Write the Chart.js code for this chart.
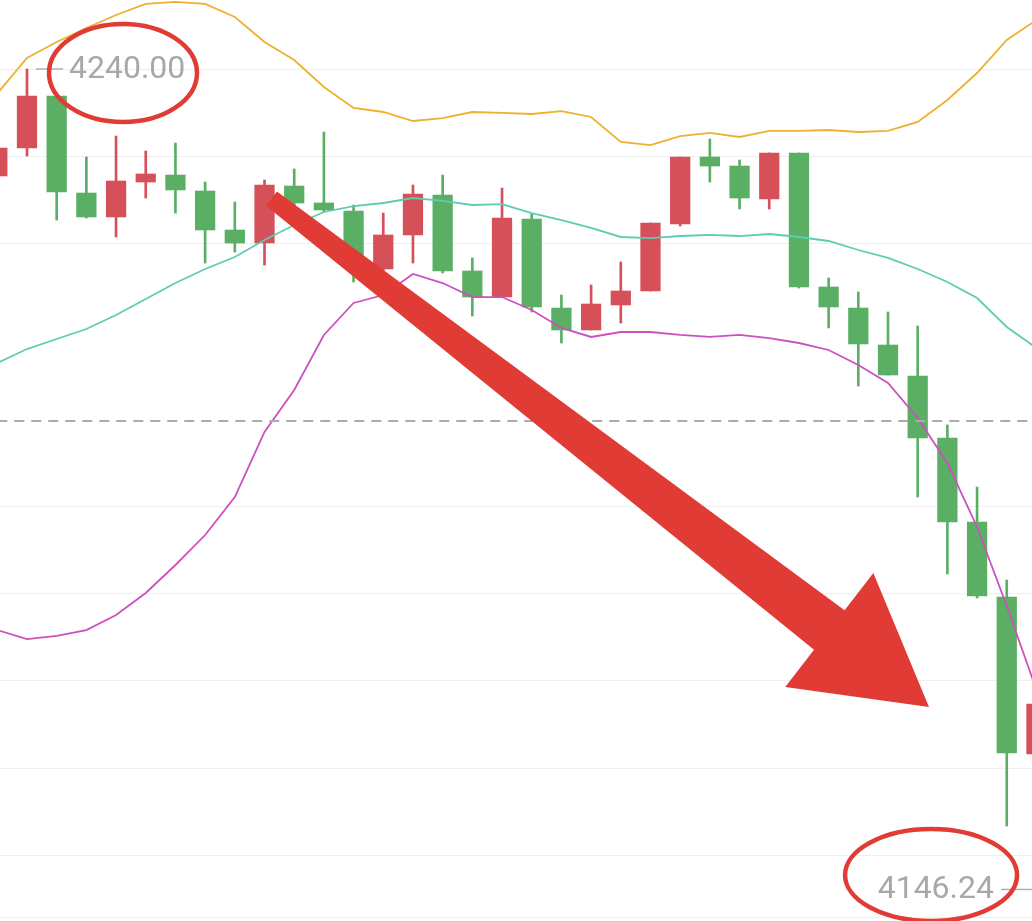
<!DOCTYPE html>
<html>
<head>
<meta charset="utf-8">
<script src="https://cdn.jsdelivr.net/npm/chart.js@4.4.1/dist/chart.umd.min.js"></script>
<style>
  html, body { margin: 0; padding: 0; background: #ffffff; }
  #wrap { width: 1032px; height: 921px; position: relative; }
</style>
</head>
<body>
<div id="wrap"><canvas id="chart"></canvas></div>
<script>
// candles (red = up, green = down)
const opens  = [4227.76, 4230.96, 4236.91, 4225.81, 4223.07, 4227.07, 4227.87, 4226.04, 4221.58, 4220.09,
                4226.61, 4224.67, 4223.75, 4217.12, 4221.01, 4225.58, 4216.89, 4213.91, 4222.84, 4212.65,
                4210.14, 4213.00, 4214.60, 4222.27, 4229.93, 4228.90, 4225.13, 4230.39, 4215.06, 4212.65,
                4208.42, 4204.87, 4197.78, 4188.17, 4179.59, 4161.62];
const highs  = [4231.40, 4240.00, 4236.91, 4229.93, 4232.33, 4230.62, 4231.53, 4227.07, 4224.78, 4227.30,
                4228.56, 4232.79, 4224.44, 4223.52, 4226.73, 4227.87, 4218.38, 4226.38, 4223.41, 4214.14,
                4215.29, 4217.92, 4222.38, 4229.93, 4231.99, 4229.59, 4230.39, 4230.39, 4216.09, 4214.49,
                4212.20, 4210.59, 4199.27, 4192.17, 4181.53, 4168.10];
const lows   = [4227.30, 4230.05, 4222.72, 4222.95, 4220.78, 4225.24, 4223.52, 4217.80, 4219.06, 4217.57,
                4224.30, 4223.70, 4215.63, 4216.30, 4217.80, 4216.66, 4211.74, 4213.91, 4212.20, 4208.65,
                4210.14, 4210.94, 4214.60, 4222.04, 4227.07, 4223.98, 4223.98, 4214.94, 4210.37, 4203.73,
                4204.99, 4191.03, 4182.22, 4179.47, 4153.39, 4161.40];
const closes = [4230.96, 4236.91, 4225.93, 4223.07, 4227.19, 4227.99, 4226.16, 4221.58, 4220.09, 4226.73,
                4224.67, 4223.87, 4217.57, 4221.01, 4225.70, 4216.89, 4213.91, 4222.95, 4212.77, 4210.14,
                4213.11, 4214.60, 4222.38, 4229.93, 4228.90, 4225.24, 4230.39, 4215.06, 4212.77, 4208.54,
                4204.99, 4197.78, 4188.17, 4179.70, 4161.74, 4167.35];

// bollinger bands
const bollUpper = [4237.2, 4241.26, 4243.09, 4244.69, 4246.18, 4247.44, 4247.67, 4247.44, 4245.95, 4243.09,
                   4241.03, 4237.94, 4235.54, 4235.08, 4234.05, 4234.39, 4235.08, 4234.97, 4234.85, 4235.19,
                   4234.51, 4231.65, 4231.30, 4232.33, 4232.68, 4232.22, 4232.91, 4232.91, 4233.02, 4232.79,
                   4232.91, 4233.94, 4236.45, 4239.54, 4243.32, 4245.61];
const bollMid   = [4206.36, 4207.96, 4209.11, 4210.25, 4211.86, 4213.68, 4215.51, 4217.12, 4218.49, 4220.44,
                   4222.15, 4223.64, 4224.32, 4224.67, 4225.24, 4224.90, 4224.44, 4224.55, 4223.52, 4222.72,
                   4221.81, 4220.78, 4220.66, 4220.89, 4221.01, 4220.89, 4221.12, 4220.78, 4220.32, 4219.29,
                   4218.38, 4217.12, 4215.63, 4213.80, 4210.48, 4208.08];
const bollLower = [4175.81, 4174.78, 4175.13, 4175.81, 4177.53, 4180.05, 4183.25, 4186.68, 4191.03, 4198.47,
                   4203.27, 4209.57, 4213.23, 4214.14, 4216.55, 4215.51, 4213.91, 4213.91, 4212.43, 4210.37,
                   4209.34, 4209.91, 4209.91, 4209.57, 4209.34, 4209.57, 4209.22, 4208.65, 4207.85, 4206.13,
                   4204.07, 4200.07, 4194.92, 4187.60, 4178.56, 4168.95];

const lastPrice = 4199.73;
const lowMark = 4146.24;
const gridLevels = [4150, 4160, 4170, 4180, 4190, 4220, 4230, 4240];

// visible window of the screenshot
const xMin = 0.091, xMax = 34.85;
const yMin = 4142.975, yMax = 4247.895;

const RED = '#d6505a';
const GREEN = '#5aaf64';
const MARK_RED = '#e13b36';

// markup drawn on top of the screenshot, anchored in data coords
const arrowFrom = { x: 9.235, y: 4225.18 };
const arrowTo = { x: 31.38, y: 4167.0 };
const circles = [
  { x: 4.234, y: 4239.54, rx: 74, ry: 49 },
  { x: 31.45, y: 4147.78, rx: 86, ry: 46 }
];

let idx = opens.map((v, i) => i);
let candleColors = idx.map(i => closes[i] >= opens[i] ? RED : GREEN);

const markupPlugin = {
  id: 'markup',
  afterDatasetsDraw(chart) {
    const ctx = chart.ctx;
    const xs = chart.scales.x, ys = chart.scales.y;
    const area = chart.chartArea;

    ctx.save();
    ctx.font = '32px Roboto, "Noto Sans", sans-serif';
    ctx.fillStyle = '#a8a8a8';
    ctx.strokeStyle = '#b0b0b0';
    ctx.lineWidth = 1.5;
    ctx.textBaseline = 'middle';

    // highest price marker
    let hi = Math.max(...highs);
    let hiIdx = highs.indexOf(hi);
    let hx = xs.getPixelForValue(hiIdx), hy = ys.getPixelForValue(hi);
    ctx.beginPath();
    ctx.moveTo(hx + 9, hy);
    ctx.lineTo(hx + 36, hy);
    ctx.stroke();
    ctx.textAlign = 'left';
    ctx.fillText(hi.toFixed(2), hx + 42, hy + 1);

    // lowest price marker (candle is right of the window)
    let ly = ys.getPixelForValue(lowMark);
    ctx.beginPath();
    ctx.moveTo(area.right - 31, ly + 1);
    ctx.lineTo(area.right, ly + 1);
    ctx.stroke();
    ctx.textAlign = 'right';
    ctx.fillText(lowMark.toFixed(2), area.right - 38, ly + 2);
    ctx.restore();

    // arrow
    let tx = xs.getPixelForValue(arrowFrom.x), ty = ys.getPixelForValue(arrowFrom.y);
    let px = xs.getPixelForValue(arrowTo.x), py = ys.getPixelForValue(arrowTo.y);
    let len = Math.hypot(px - tx, py - ty);
    let ux = (px - tx) / len, uy = (py - ty) / len;
    let nx = -uy, ny = ux;
    let headLen = 126, headHalf = 72, neckHalf = 25, tailHalf = 9;
    let cx = px - ux * headLen, cy = py - uy * headLen;
    ctx.save();
    ctx.fillStyle = MARK_RED;
    ctx.beginPath();
    ctx.moveTo(tx + nx * tailHalf, ty + ny * tailHalf);
    ctx.lineTo(cx + nx * neckHalf, cy + ny * neckHalf);
    ctx.lineTo(cx + nx * headHalf, cy + ny * headHalf);
    ctx.lineTo(px, py);
    ctx.lineTo(cx - nx * headHalf, cy - ny * headHalf);
    ctx.lineTo(cx - nx * neckHalf, cy - ny * neckHalf);
    ctx.lineTo(tx - nx * tailHalf, ty - ny * tailHalf);
    ctx.closePath();
    ctx.fill();

    // circled prices
    ctx.strokeStyle = MARK_RED;
    ctx.lineWidth = 4.5;
    circles.forEach(c => {
      ctx.beginPath();
      ctx.ellipse(xs.getPixelForValue(c.x), ys.getPixelForValue(c.y), c.rx, c.ry, 0, 0, Math.PI * 2);
      ctx.stroke();
    });
    ctx.restore();
  }
};

function band(values, color) {
  return {
    type: 'line',
    data: values.map((v, i) => ({ x: i, y: v })),
    borderColor: color,
    borderWidth: 1.8,
    pointRadius: 0,
    tension: 0,
    fill: false,
    order: 1
  };
}

new Chart(document.getElementById('chart'), {
  type: 'bar',
  data: {
    datasets: [
      {
        // wicks
        data: idx.map(i => ({ x: i, y: [lows[i], highs[i]] })),
        backgroundColor: candleColors,
        barThickness: 2,
        barPercentage: 0.0674,
        categoryPercentage: 1,
        grouped: false,
        order: 3
      },
      {
        // bodies
        data: idx.map(i => ({ x: i, y: [opens[i], closes[i]] })),
        backgroundColor: candleColors,
        barThickness: 19.6,
        barPercentage: 0.66,
        categoryPercentage: 1,
        grouped: false,
        order: 2
      },
      band(bollUpper, '#efb02e'),
      band(bollMid, '#5ccdb0'),
      band(bollLower, '#cc50bf'),
      {
        type: 'line',
        data: [{ x: 0, y: lastPrice }, { x: 36, y: lastPrice }],
        borderColor: '#ababab',
        borderWidth: 2,
        borderDash: [10, 7],
        pointRadius: 0,
        order: 0
      }
    ]
  },
  options: {
    responsive: true,
    maintainAspectRatio: false,
    animation: false,
    layout: { autoPadding: false, padding: { left: 0, right: 0, top: 0, bottom: 4 } },
    plugins: { legend: { display: false }, tooltip: { enabled: false } },
    scales: {
      x: {
        type: 'linear',
        min: xMin,
        max: xMax,
        offset: false,
        display: false,
        grid: { offset: false }
      },
      y: {
        type: 'linear',
        min: yMin,
        max: yMax,
        beginAtZero: false,
        afterBuildTicks: axis => {
          axis.ticks = [yMin].concat(gridLevels).map(v => ({ value: v }));
        },
        ticks: { display: false },
        border: { display: false },
        grid: { color: '#efefef', lineWidth: 1, drawTicks: false }
      }
    }
  },
  plugins: [markupPlugin]
});
</script>
</body>
</html>
